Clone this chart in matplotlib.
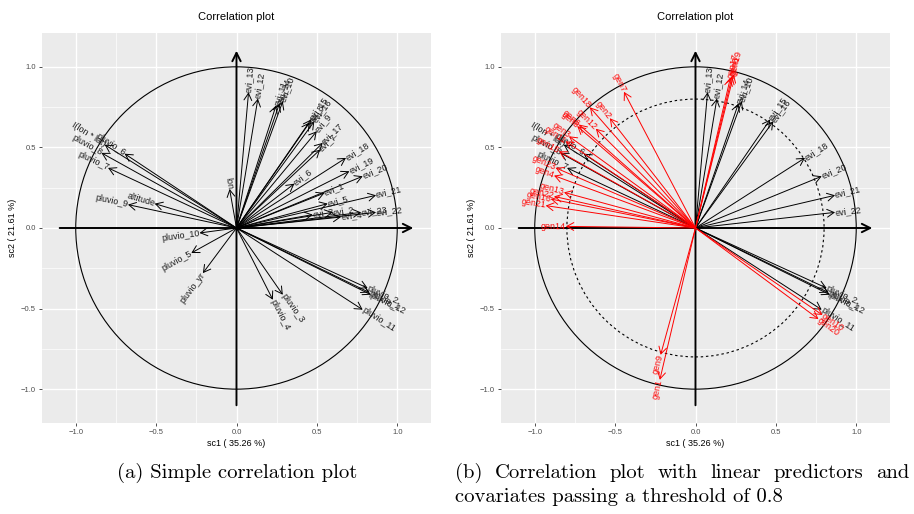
import numpy as np
import matplotlib
matplotlib.use('Agg')
import matplotlib.pyplot as plt
from matplotlib.patches import Circle

# ---------------- data ----------------
var_names = ["I(lon * lat)", "pluvio_6", "pluvio_8", "pluvio_1", "pluvio_7", "pluvio_9",
             "altitude", "lon", "pluvio_10", "pluvio_5", "pluvio_yr", "pluvio_3",
             "pluvio_4", "pluvio_2", "pluvio_12", "pluvio_11",
             "evi_13", "evi_12", "evi_11", "evi_14", "evi_10", "evi_15", "evi_16",
             "evi_8", "evi_9", "evi_17", "evi_7", "evi_18", "evi_19", "evi_20",
             "evi_6", "evi_1", "evi_21", "evi_5", "evi_2", "evi_3", "evi_4",
             "evi_23", "evi_22"]
var_x = [-0.820, -0.696, -0.840, 0.826, -0.799, -0.675, -0.509, -0.043, -0.230, -0.281,
         -0.209, 0.288, 0.226, 0.816, 0.836, 0.785,
         0.075, 0.133, 0.246, 0.267, 0.288, 0.464, 0.484, 0.455, 0.499, 0.536,
         0.520, 0.681, 0.702, 0.785, 0.360, 0.547, 0.868, 0.567, 0.598, 0.474,
         0.650, 0.775, 0.868]
var_y = [0.517, 0.461, 0.466, -0.400, 0.373, 0.145, 0.151, 0.242, -0.031, -0.155,
         -0.280, -0.414, -0.445, -0.373, -0.414, -0.507,
         0.842, 0.803, 0.760, 0.772, 0.786, 0.673, 0.662, 0.655, 0.600, 0.528,
         0.486, 0.435, 0.352, 0.321, 0.275, 0.217, 0.203, 0.151, 0.097, 0.083,
         0.068, 0.097, 0.097]

gen_names = ["gen7", "gen18", "gen2", "gen12", "gen6", "gen8", "gen3", "gen11",
             "gen15", "gen23", "gen4", "gen13", "gen22", "gen16", "gen21", "gen14",
             "gen19", "gen5", "gen17", "gen9", "gen1", "gen10", "gen20"]
gen_x = [-0.445, -0.657, -0.533, -0.620, -0.725, -0.735, -0.787, -0.808,
         -0.849, -0.870, -0.880, -0.818, -0.880, -0.901, -0.932, -0.807,
         0.238, 0.228, 0.217, -0.217, -0.222, 0.790, 0.765]
gen_y = [0.845, 0.749, 0.681, 0.616, 0.642, 0.631, 0.569, 0.538,
         0.476, 0.373, 0.325, 0.221, 0.196, 0.180, 0.139, 0.010,
         0.952, 0.942, 0.932, -0.787, -0.942, -0.540, -0.565]

threshold = 0.8
x_title = "sc1 ( 35.26 %)"
y_title = "sc2 ( 21.61 %)"
ticks = [-1.0, -0.5, 0.0, 0.5, 1.0]
minor_ticks = [-0.75, -0.25, 0.25, 0.75]
panel_title = "Correlation plot"
caption_a = "(a) Simple correlation plot"
caption_b1 = "(b) Correlation plot with linear predictors and"
caption_b2 = "covariates passing a threshold of 0.8"

LBL_FONT = "Liberation Sans"
CAP_SIZE = 14.9
W, H = 914, 514
fig = plt.figure(figsize=(W / 100, H / 100), dpi=100)


def px_axes(x0, y0, x1, y1):
    return fig.add_axes([x0 / W, 1 - y1 / H, (x1 - x0) / W, (y1 - y0) / H])


def setup(ax):
    ax.set_facecolor('#EBEBEB')
    ax.set_xlim(-1.21, 1.21)
    ax.set_ylim(-1.21, 1.21)
    ax.set_xticks(ticks)
    ax.set_yticks(ticks)
    ax.set_xticks(minor_ticks, minor=True)
    ax.set_yticks(minor_ticks, minor=True)
    ax.set_xticklabels([f"{t:.1f}".replace('-', '\u2212') for t in ticks])
    ax.set_yticklabels([f"{t:.1f}".replace('-', '\u2212') for t in ticks])
    ax.grid(which='major', color='white', lw=1.0)
    ax.grid(which='minor', color='white', lw=0.5)
    ax.set_axisbelow(True)
    for s in ax.spines.values():
        s.set_visible(False)
    ax.tick_params(which='major', length=2.5, width=0.6, color='#333333',
                   labelsize=5.5, labelcolor='#4D4D4D', pad=2)
    ax.tick_params(which='minor', length=0)
    for lab in ax.get_xticklabels() + ax.get_yticklabels():
        lab.set_fontfamily(LBL_FONT)
    ax.set_xlabel(x_title, fontsize=6.5, fontfamily=LBL_FONT, labelpad=2)
    ax.set_ylabel(y_title, fontsize=6.5, fontfamily=LBL_FONT, labelpad=3)
    ax.set_title(panel_title, fontsize=8, fontfamily=LBL_FONT, pad=9)
    # axes arrows
    ap = dict(arrowstyle='->,head_length=0.6,head_width=0.3', color='black',
              lw=1.4, shrinkA=0, shrinkB=0)
    ax.annotate('', xy=(1.1, 0), xytext=(-1.1, 0), arrowprops=ap)
    ax.annotate('', xy=(0, 1.1), xytext=(0, -1.1), arrowprops=ap)
    ax.add_patch(Circle((0, 0), 1.0, fill=False, color='black', lw=0.8))


def draw_vec(ax, x, y, name, color, tcolor):
    ax.annotate('', xy=(x, y), xytext=(0, 0),
                arrowprops=dict(arrowstyle='->,head_length=0.5,head_width=0.28',
                                color=color, lw=0.7, shrinkA=0, shrinkB=0))
    ang = np.degrees(np.arctan(y / x)) if x != 0 else 90
    ax.text(x, y, name, rotation=ang, rotation_mode='anchor',
            ha='left' if x > 0 else 'right', va='center', fontsize=6.4,
            color=tcolor, fontfamily=LBL_FONT, clip_on=True)


ax1 = px_axes(42, 33, 431, 423)
setup(ax1)
for n, x, y in zip(var_names, var_x, var_y):
    draw_vec(ax1, x, y, n, 'black', '#1A1A1A')

ax2 = px_axes(501, 33, 890, 423)
setup(ax2)
ax2.add_patch(Circle((0, 0), threshold, fill=False, color='black', lw=0.8,
                     ls=(0, (2.2, 2.5))))
for n, x, y in zip(var_names, var_x, var_y):
    if np.hypot(x, y) >= threshold:
        draw_vec(ax2, x, y, n, 'black', '#1A1A1A')
for n, x, y in zip(gen_names, gen_x, gen_y):
    draw_vec(ax2, x, y, n, 'red', 'red')

fig.text(237 / W, 1 - 473 / H, caption_a, ha='center', va='center',
         fontsize=CAP_SIZE, fontfamily='cmr10')
fig.text(455 / W, 1 - 497 / H, caption_b2, ha='left', va='center',
         fontsize=CAP_SIZE, fontfamily='cmr10')

# justified first line of caption (b), spanning 455..910 px
fig.canvas.draw()
renderer = fig.canvas.get_renderer()
words = caption_b1.split(' ')
objs = []
widths = []
for w in words:
    t = fig.text(0, 1 - 473 / H, w, ha='left', va='center',
                 fontsize=CAP_SIZE, fontfamily='cmr10')
    objs.append(t)
    widths.append(t.get_window_extent(renderer).width)
x_left, x_right = 455.0, 909.0
gap = (x_right - x_left - sum(widths)) / (len(words) - 1)
cur = x_left
for t, wd in zip(objs, widths):
    t.set_x(cur / W)
    cur += wd + gap

fig.savefig('out.png', dpi=100)
